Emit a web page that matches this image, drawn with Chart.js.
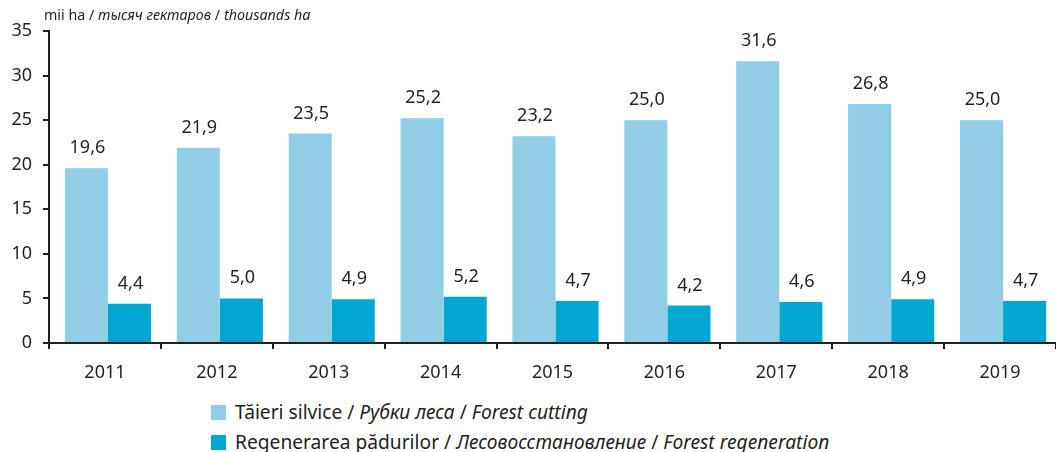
<!DOCTYPE html>
<html><head><meta charset="utf-8">
<script src="https://cdn.jsdelivr.net/npm/chart.js@4"></script>
<style>
body{margin:0;background:#fff;width:1056px;height:452px;overflow:hidden;font-family:"Noto Sans",sans-serif;color:#231f20;}
#wrap{position:absolute;left:0;top:0;width:1056px;height:390px;}
#unit{position:absolute;left:44px;top:5px;font-size:14.3px;white-space:nowrap;}
.leg{position:absolute;left:211px;font-size:19.2px;white-space:nowrap;line-height:22px;}
.leg span.sw{display:inline-block;width:15px;height:15px;vertical-align:-1px;margin-right:9px;}
i{font-style:italic;}
</style></head><body>
<div id="wrap"><canvas id="c" width="1056" height="390"></canvas></div>
<div id="unit">mii ha / <i>тысяч гектаров</i> / <i>thousands ha</i></div>
<div class="leg" style="top:401px"><span class="sw" style="background:#92cde6"></span>Tăieri silvice / <i>Рубки леса</i> / <i>Forest cutting</i></div>
<div class="leg" style="top:431px"><span class="sw" style="background:#02a8d2"></span>Regenerarea pădurilor / <i>Лесовосстановление</i> / <i>Forest regeneration</i></div>
<script>
const years = ["2011","2012","2013","2014","2015","2016","2017","2018","2019"];
const forestCutting = [19.6,21.9,23.5,25.2,23.2,25.0,31.6,26.8,25.0];
const forestRegeneration = [4.4,5.0,4.9,5.2,4.7,4.2,4.6,4.9,4.7];
const yTicks = [0,5,10,15,20,25,30,35];

const labelPlugin = {
  id:'valLabels',
  beforeDatasetsDraw(chart){
    chart.ctx.save();
    chart.ctx.translate(3,0);
  },
  afterDatasetsDraw(chart){
    const ctx = chart.ctx;
    ctx.font = '18px "Noto Sans", sans-serif';
    ctx.fillStyle = '#231f20';
    ctx.textAlign = 'center';
    ctx.textBaseline = 'alphabetic';
    chart.data.datasets.forEach((ds,i)=>{
      chart.getDatasetMeta(i).data.forEach((bar,j)=>{
        ctx.fillText(ds.data[j].toFixed(1).replace('.',','), bar.x + 1, bar.y - 15);
      });
    });
    ctx.restore();
  }
};

new Chart(document.getElementById('c'),{
  type:'bar',
  data:{labels:years,datasets:[
    {label:'Forest cutting',data:forestCutting,backgroundColor:'#92cde6',categoryPercentage:0.77,barPercentage:1},
    {label:'Forest regeneration',data:forestRegeneration,backgroundColor:'#02a8d2',categoryPercentage:0.77,barPercentage:1}
  ]},
  options:{
    responsive:false,animation:false,
    layout:{padding:{top:31,right:0,left:0,bottom:0}},
    plugins:{legend:{display:false},tooltip:{enabled:false}},
    scales:{
      x:{
        offset:true,
        grid:{display:true,drawOnChartArea:false,offset:true,tickLength:6,color:'#231f20',lineWidth:2},
        border:{display:true,color:'#231f20',width:2},
        ticks:{color:'#231f20',font:{size:18,family:'"Noto Sans", sans-serif'},padding:13},
        afterFit(s){s.height=47;}
      },
      y:{
        min:0,max:35,
        afterBuildTicks(s){s.ticks=yTicks.map(v=>({value:v}));},
        grid:{display:true,drawOnChartArea:false,tickLength:6,color:'#231f20',lineWidth:2},
        border:{display:true,color:'#231f20',width:2},
        ticks:{color:'#231f20',font:{size:18,family:'"Noto Sans", sans-serif'},padding:11},
        afterFit(s){s.width=49;}
      }
    }
  },
  plugins:[labelPlugin]
});
</script>
</body></html>
